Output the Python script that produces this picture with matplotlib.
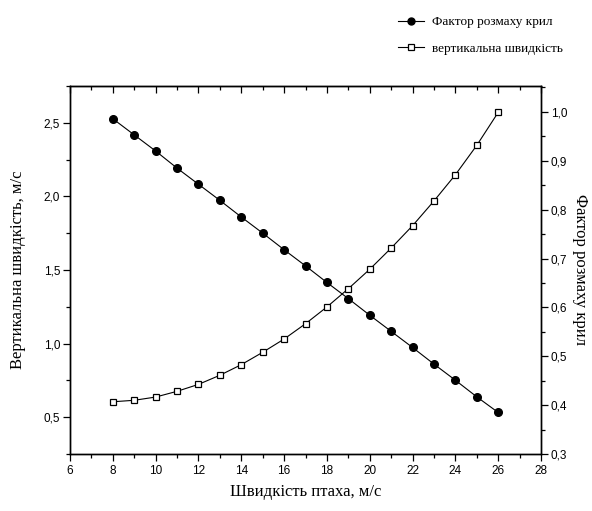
import numpy as np
import matplotlib
matplotlib.use("Agg")
import matplotlib.pyplot as plt
from matplotlib.ticker import MultipleLocator, FuncFormatter
from matplotlib.lines import Line2D

# bird speed, m/s
speed = [8, 9, 10, 11, 12, 13, 14, 15, 16, 17, 18, 19, 20, 21, 22, 23, 24, 25, 26]
# wing span factor (right axis)
span_factor = [0.986, 0.953, 0.920, 0.885, 0.852, 0.819, 0.785, 0.752, 0.718, 0.685,
               0.651, 0.618, 0.584, 0.551, 0.518, 0.484, 0.451, 0.417, 0.385]
# vertical speed, m/s (left axis)
vert_speed = [0.605, 0.615, 0.637, 0.676, 0.723, 0.785, 0.857, 0.941, 1.031, 1.135,
              1.249, 1.373, 1.505, 1.649, 1.801, 1.969, 2.147, 2.347, 2.571]

label_span = "Фактор розмаху крил"
label_vert = "вертикальна швидкість"

serif = "Liberation Serif"
sans = "Liberation Sans"

comma = FuncFormatter(lambda v, p: f"{v:.1f}".replace(".", ","))
intfmt = FuncFormatter(lambda v, p: f"{v:.0f}")

fig = plt.figure(figsize=(5.92, 5.11), dpi=100)
ax = fig.add_axes([0.1182, 0.1115, 0.7957, 0.7202])
ax2 = ax.twinx()

ax.plot(speed, vert_speed, color="black", lw=0.8, marker="s", ms=4.8,
        mfc="white", mec="black", mew=0.9, zorder=3)
ax2.plot(speed, span_factor, color="black", lw=0.8, marker="o", ms=5.5,
         mfc="black", mec="black", zorder=3)

ax.set_xlim(6, 28)
ax.set_ylim(0.25, 2.75)
ax2.set_ylim(0.3, 1.053)

ax.xaxis.set_major_locator(MultipleLocator(2))
ax.xaxis.set_minor_locator(MultipleLocator(1))
ax.yaxis.set_major_locator(MultipleLocator(0.5))
ax.yaxis.set_minor_locator(MultipleLocator(0.25))
ax2.yaxis.set_major_locator(MultipleLocator(0.1))
ax2.yaxis.set_minor_locator(MultipleLocator(0.05))
ax.xaxis.set_major_formatter(intfmt)
ax.yaxis.set_major_formatter(comma)
ax2.yaxis.set_major_formatter(comma)

for a in (ax, ax2):
    for s in a.spines.values():
        s.set_linewidth(1.0)
ax.tick_params(axis="x", which="major", direction="out", length=5, width=0.9,
               top=False, labelsize=8.5, pad=3)
ax.tick_params(axis="x", which="minor", direction="out", length=3, width=0.9, top=False)
ax.tick_params(axis="y", which="major", direction="out", length=5, width=0.9,
               labelsize=8.5, pad=2)
ax.tick_params(axis="y", which="minor", direction="out", length=3, width=0.9)
ax2.tick_params(axis="y", which="major", direction="out", length=5, width=0.9,
                labelsize=8.5, pad=2)
ax2.tick_params(axis="y", which="minor", direction="out", length=3, width=0.9)

# top ticks point inward
sec = ax.secondary_xaxis("top")
sec.xaxis.set_major_locator(MultipleLocator(2))
sec.xaxis.set_minor_locator(MultipleLocator(1))
sec.tick_params(which="major", direction="in", length=5, width=0.9, labeltop=False)
sec.tick_params(which="minor", direction="in", length=3, width=0.9)

for lab in ax.get_xticklabels() + ax.get_yticklabels() + ax2.get_yticklabels():
    lab.set_fontfamily(sans)

ax.set_xlabel("Швидкість птаха, м/с", family=serif, fontsize=12, labelpad=5)
ax.set_ylabel("Вертикальна швидкість, м/с", family=serif, fontsize=12, labelpad=13)
ax2.set_ylabel("Фактор розмаху крил", family=serif, fontsize=12, rotation=270,
               labelpad=15)

handles = [
    Line2D([], [], color="black", lw=0.8, marker="o", ms=5, mfc="black"),
    Line2D([], [], color="black", lw=0.8, marker="s", ms=4.5, mfc="white", mew=0.9),
]
fig.legend(handles, [label_span, label_vert], loc="upper left",
           bbox_to_anchor=(0.652, 0.992), frameon=False,
           prop={"family": serif, "size": 9.5}, handlelength=2.0, handletextpad=0.6,
           labelspacing=1.1)

fig.savefig("out.png", dpi=100)
